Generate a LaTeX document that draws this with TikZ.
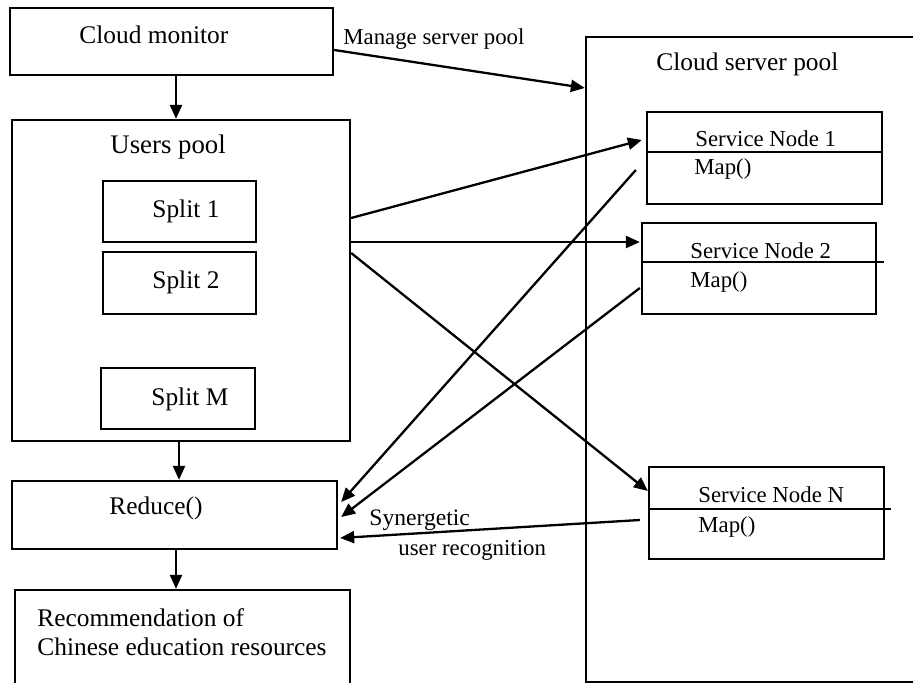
\documentclass[tikz,border=0pt]{standalone}
\usepackage{fontspec}
\setmainfont{Liberation Serif}
\usetikzlibrary{fit,calc,arrows.meta}
\begin{document}
\begin{tikzpicture}[x=0.5pt,y=-0.5pt,
  box/.style={draw,line width=1.15pt,inner sep=0pt,rectangle},
  lbl/.style={font=\fontsize{12.7}{15}\selectfont,inner sep=0pt},
  sml/.style={font=\fontsize{11.4}{14}\selectfont,inner sep=0pt},
  arr/.style={line width=1.15pt,-{Triangle[length=7pt,width=6pt]}},
  ln/.style={line width=1.15pt}]
\useasboundingbox (0,0) rectangle (913,683);
\clip (0,0) rectangle (913,683);
% boxes
\node[box,fit={(10,8) (333,75)}] (monitor) {};
\node[box,fit={(12,120) (350,441)}] (users) {};
\node[box,fit={(103,181) (256,242)}] (split1) {};
\node[box,fit={(103,252) (256,314)}] (split2) {};
\node[box,fit={(101,368) (255,429)}] (splitm) {};
\node[box,fit={(12,481) (337,549)}] (reduce) {};
\node[box,fit={(15,590) (350,700)}] (recom) {};
\node[box,fit={(586,37) (930,682)}] (pool) {};
\node[box,fit={(647,112) (882,204)}] (sn1) {};
\node[box,fit={(642,223) (876,314)}] (sn2) {};
\node[box,fit={(649,467) (884,559)}] (snn) {};
% dividers
\draw[ln] ($(sn1.west)+(0,-6)$) -- ++(237,0);
\draw[ln] ($(sn2.west)+(0,-6.5)$) -- ++(243,0);
\draw[ln] ($(snn.west)+(0,-4)$) -- ++(243,0);
% texts
\node[lbl,anchor=west] (tmon) at (79,35) {Cloud monitor};
\node[sml,anchor=west] (tmanage) at (343,39) {Manage server pool};
\node[lbl,anchor=west,font=\fontsize{13.4}{15}\selectfont] (tusers) at (110,147) {Users pool};
\node[lbl,anchor=west] (ts1) at (152,211) {Split 1};
\node[lbl,anchor=west] (ts2) at (152,282) {Split 2};
\node[lbl,anchor=west] (tsm) at (151,399) {Split M};
\node[lbl,anchor=west] (tred) at (109,508) {Reduce()};
\node[lbl,anchor=west] (trec1) at (37,618) {Recommendation of};
\node[lbl,anchor=west] (trec2) at (37,647) {Chinese education resources};
\node[lbl,anchor=west] (tpool) at (656,64) {Cloud server pool};
\node[sml,anchor=west] (tsn1) at (695,139) {Service Node 1};
\node[sml,anchor=west] (tmap1) at (694,169) {Map()};
\node[sml,anchor=west] (tsn2) at (690,251) {Service Node 2};
\node[sml,anchor=west] (tmap2) at (690,282) {Map()};
\node[sml,anchor=west] (tsnn) at (698,495) {Service Node N};
\node[sml,anchor=west] (tmapn) at (698,527) {Map()};
\node[sml,anchor=west,font=\fontsize{11.8}{14}\selectfont] (tsyn1) at (369,520) {Synergetic};
\node[sml,anchor=west] (tsyn2) at (398,550) {user recognition};
% connectors
\draw[arr] ($(monitor.east)+(0,8.5)$) -- ($(pool.west)+(0,-271.5)$);
\draw[arr] ($(users.east)+(0,-62.5)$) -- ($(sn1.west)+(-4,-18)$);
\draw[arr] ($(users.east)+(0,-38.5)$) -- ($(sn2.west)+(-1,-26.5)$);
\draw[arr] ($(users.east)+(0,-27.5)$) -- ($(snn.west)+(0,-22)$);
\draw[arr] ($(sn1.west)+(-10,12)$) -- ($(reduce.east)+(3,-13)$);
\draw[arr] ($(sn2.west)+(-1,19.5)$) -- ($(reduce.east)+(3,2)$);
\draw[arr] ($(snn.west)+(-8,7)$) -- ($(reduce.east)+(2,23)$);
\draw[arr] ($(monitor.south)+(4.5,0)$) -- ($(users.north)+(-5,0)$);
\draw[arr] ($(users.south)+(-2,0)$) -- ($(reduce.north)+(4.5,0)$);
\draw[arr] ($(reduce.south)+(1.5,0)$) -- ($(recom.north)+(-6.5,0)$);
\end{tikzpicture}
\end{document}
